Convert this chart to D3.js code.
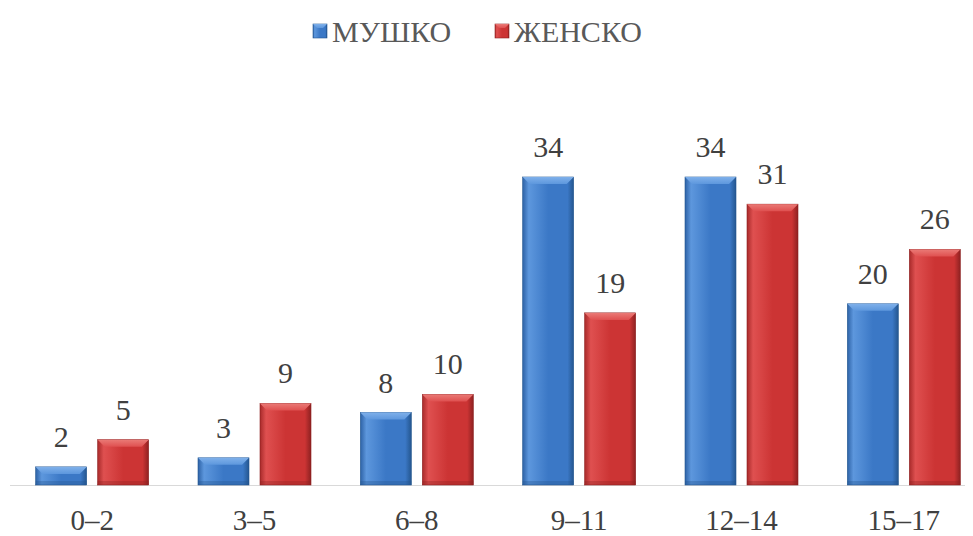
<!DOCTYPE html>
<html>
<head>
<meta charset="utf-8">
<script src="https://cdn.jsdelivr.net/npm/d3@7/dist/d3.min.js"></script>
<style>
  html, body { margin: 0; padding: 0; background: #ffffff; font-family: 'Liberation Serif', serif; }
  svg { display: block; }
  svg text { font-family: 'Liberation Serif', Tinos, serif !important; }
</style>
</head>
<body>
<svg id="chart" width="973" height="536"></svg>
<script>
// Age groups and counts per gender
const categories = ["0–2", "3–5", "6–8", "9–11", "12–14", "15–17"];
const seriesNames = ["МУШКО", "ЖЕНСКО"];
const male = [2, 3, 8, 34, 34, 20];
const female = [5, 9, 10, 19, 31, 26];

const FONT = "'Liberation Serif', Tinos, serif";
const baseY = 485;
const svg = d3.select("#chart");

const x = d3.scaleBand().domain(categories).range([11, 985]).padding(0);
const y = d3.scaleLinear().domain([0, 34]).range([baseY, 177]);

const palettes = [
  { base: "#3b78c6", light: "#5d97dd", top: "#7fb0ea", dark: "#24568f", edge: "#2d62a6" },
  { base: "#cc3434", light: "#df5050", top: "#ea7a76", dark: "#8e2121", edge: "#a82a2a" }
];

const defs = svg.append("defs");
palettes.forEach((p, i) => {
  const g = defs.append("linearGradient").attr("id", "body" + i)
    .attr("x1", 0).attr("x2", 1).attr("y1", 0).attr("y2", 0);
  g.append("stop").attr("offset", "0%").attr("stop-color", p.edge);
  g.append("stop").attr("offset", "12%").attr("stop-color", p.light);
  g.append("stop").attr("offset", "50%").attr("stop-color", p.base);
  g.append("stop").attr("offset", "88%").attr("stop-color", p.base);
  g.append("stop").attr("offset", "100%").attr("stop-color", p.dark);
  const t = defs.append("linearGradient").attr("id", "top" + i)
    .attr("x1", 0).attr("x2", 0).attr("y1", 0).attr("y2", 1);
  t.append("stop").attr("offset", "0%").attr("stop-color", p.top);
  t.append("stop").attr("offset", "100%").attr("stop-color", p.light);
});

// Baseline
svg.append("line")
  .attr("x1", 10).attr("x2", 965)
  .attr("y1", baseY + 0.5).attr("y2", baseY + 0.5)
  .attr("stroke", "#d9d9d9").attr("stroke-width", 1.2);

const barW = 51, offset = 5.5;
const data = [];
categories.forEach((c, ci) => {
  [male, female].forEach((arr, si) => {
    data.push({ c, si, v: arr[ci] });
  });
});

const bev = 7;
const bars = svg.append("g").selectAll("g").data(data).join("g")
  .attr("transform", d => {
    const cx = x(d.c) + x.bandwidth() / 2;
    const x0 = d.si === 0 ? cx - offset - barW : cx + offset;
    return `translate(${x0},0)`;
  });

bars.append("rect")
  .attr("x", 0).attr("width", barW)
  .attr("y", d => y(d.v)).attr("height", d => baseY - y(d.v))
  .attr("fill", d => `url(#body${d.si})`)
  .attr("stroke", d => palettes[d.si].dark).attr("stroke-width", 0.6);

// Bottom shading
bars.append("rect")
  .attr("x", 0).attr("width", barW)
  .attr("y", baseY - 4).attr("height", d => Math.min(4, baseY - y(d.v)))
  .attr("fill", d => palettes[d.si].dark).attr("opacity", 0.35);

// Top bevel
bars.append("path")
  .attr("d", d => {
    const t = y(d.v);
    const b = Math.min(bev, (baseY - t) / 2);
    return `M0,${t}L${barW},${t}L${barW - b},${t + b}L${b},${t + b}Z`;
  })
  .attr("fill", d => `url(#top${d.si})`);

// Value labels
svg.append("g").selectAll("text").data(data).join("text")
  .attr("x", d => {
    const cx = x(d.c) + x.bandwidth() / 2;
    return d.si === 0 ? cx - offset - barW / 2 : cx + offset + barW / 2;
  })
  .attr("y", d => y(d.v) - 20)
  .attr("text-anchor", "middle")
  .style("font-family", FONT)
  .style("font-size", "30px")
  .attr("fill", "#404040")
  .text(d => d.v);

// Category axis labels
const xAxis = d3.axisBottom(x).tickSize(0).tickPadding(0);
const ax = svg.append("g").attr("transform", `translate(0,${baseY})`).call(xAxis);
ax.attr("font-family", null).attr("font-size", null);
ax.select(".domain").remove();
ax.selectAll("text")
  .attr("y", 45)
  .attr("dy", 0)
  .style("font-family", FONT)
  .style("font-size", "29px")
  .attr("fill", "#404040");

// Legend
const legendItems = [
  { name: seriesNames[0], si: 0, x: 313 },
  { name: seriesNames[1], si: 1, x: 495 }
];
const lg = svg.append("g").selectAll("g").data(legendItems).join("g")
  .attr("transform", d => `translate(${d.x},24)`);
lg.append("rect").attr("width", 14).attr("height", 14)
  .attr("fill", d => `url(#body${d.si})`)
  .attr("stroke", d => palettes[d.si].dark).attr("stroke-width", 0.6);
lg.append("path").attr("d", "M0,0L14,0L10,4L4,4Z")
  .attr("fill", d => `url(#top${d.si})`);
lg.append("text").attr("x", 19).attr("y", 18)
  .style("font-family", FONT)
  .style("font-size", "30px")
  .attr("fill", "#595959")
  .text(d => d.name);
</script>
</body>
</html>
